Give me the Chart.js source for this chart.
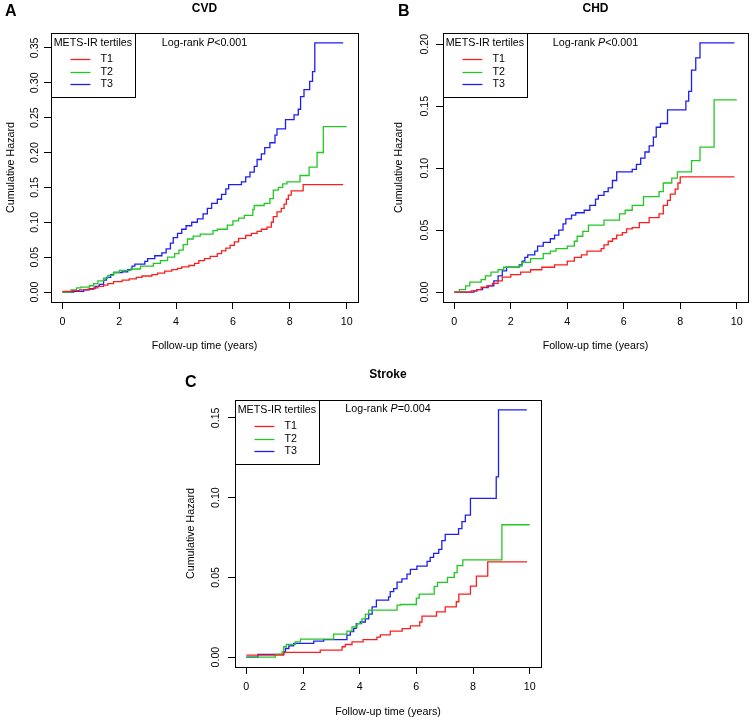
<!DOCTYPE html>
<html>
<head>
<meta charset="utf-8">
<script src="https://cdn.jsdelivr.net/npm/chart.js@4.4.1/dist/chart.umd.min.js"></script>
<style>
  body { margin: 0; background: #fff; }
  #wrap { position: relative; width: 753px; height: 721px; }
  canvas { position: absolute; }
</style>
</head>
<body>
<div id="wrap">
  <canvas id="cvd" width="376" height="360" style="left:0;top:0"></canvas>
  <canvas id="chd" width="367" height="360" style="left:386px;top:0"></canvas>
  <canvas id="stroke" width="380" height="381" style="left:180px;top:340px"></canvas>
</div>
<script>
// Data: [follow-up years, cumulative hazard] at each step
const tertiles = ['T1', 'T2', 'T3'];
const colors = ['#fa1e1e', '#22c822', '#1e1ef5'];
const xTicks = [0, 2, 4, 6, 8, 10];

const cvdT1 = [[0,0.001],[0.35,0.002],[0.6,0.003],[0.9,0.004],[1.1,0.006],[1.25,0.008],[1.45,0.010],[1.6,0.012],[1.8,0.015],[2.1,0.017],[2.35,0.019],[2.6,0.021],[2.8,0.023],[3.15,0.025],[3.35,0.027],[3.6,0.030],[3.85,0.032],[4.05,0.034],[4.2,0.036],[4.45,0.038],[4.65,0.041],[4.8,0.045],[5.0,0.048],[5.2,0.051],[5.45,0.055],[5.6,0.059],[5.75,0.063],[5.9,0.067],[6.05,0.072],[6.2,0.077],[6.45,0.081],[6.65,0.084],[6.85,0.087],[7.0,0.090],[7.2,0.093],[7.35,0.100],[7.42,0.108],[7.55,0.115],[7.7,0.120],[7.8,0.126],[7.88,0.133],[7.95,0.139],[8.05,0.145],[8.47,0.154],[9.88,0.154]];
const cvdT2 = [[0,0],[0.3,0.003],[0.5,0.006],[0.65,0.007],[0.95,0.009],[1.1,0.012],[1.25,0.016],[1.45,0.020],[1.6,0.024],[1.8,0.028],[2.0,0.031],[2.4,0.033],[2.75,0.037],[3.2,0.041],[3.45,0.045],[3.7,0.050],[3.95,0.055],[4.1,0.060],[4.25,0.068],[4.4,0.076],[4.6,0.080],[4.85,0.083],[5.3,0.088],[5.45,0.090],[5.8,0.096],[6.0,0.102],[6.2,0.106],[6.4,0.110],[6.7,0.118],[6.75,0.124],[7.1,0.127],[7.3,0.134],[7.42,0.146],[7.6,0.150],[7.75,0.155],[7.9,0.158],[8.36,0.167],[8.68,0.179],[8.96,0.200],[9.18,0.237],[10.0,0.237]];
const cvdT3 = [[0,0],[0.4,0.001],[0.75,0.003],[0.95,0.005],[1.15,0.008],[1.3,0.011],[1.45,0.017],[1.55,0.021],[1.7,0.025],[1.8,0.028],[2.1,0.029],[2.3,0.032],[2.45,0.037],[2.55,0.040],[2.9,0.044],[3.0,0.048],[3.25,0.052],[3.5,0.056],[3.65,0.062],[3.8,0.070],[3.9,0.078],[4.05,0.084],[4.2,0.090],[4.35,0.095],[4.55,0.100],[4.75,0.105],[4.95,0.112],[5.1,0.120],[5.25,0.127],[5.45,0.133],[5.6,0.140],[5.75,0.148],[5.85,0.154],[6.3,0.158],[6.45,0.165],[6.6,0.172],[6.75,0.180],[6.85,0.190],[7.0,0.198],[7.12,0.207],[7.3,0.214],[7.48,0.225],[7.55,0.234],[7.85,0.247],[8.15,0.254],[8.3,0.262],[8.38,0.280],[8.5,0.290],[8.7,0.302],[8.8,0.316],[8.88,0.357],[9.88,0.357]];

const chdT1 = [[0,0],[0.6,0.001],[0.8,0.002],[0.95,0.004],[1.15,0.005],[1.35,0.007],[1.55,0.009],[1.7,0.012],[2.0,0.014],[2.35,0.016],[2.7,0.018],[3.1,0.020],[3.55,0.022],[4.0,0.025],[4.25,0.028],[4.5,0.030],[4.7,0.033],[5.2,0.035],[5.3,0.038],[5.45,0.041],[5.6,0.043],[5.75,0.046],[5.95,0.048],[6.1,0.051],[6.3,0.052],[6.55,0.056],[6.9,0.060],[7.25,0.063],[7.4,0.070],[7.55,0.074],[7.65,0.079],[7.82,0.083],[7.92,0.088],[8.0,0.093],[9.92,0.093]];
const chdT2 = [[0,0],[0.18,0.002],[0.4,0.005],[0.55,0.008],[0.95,0.010],[1.1,0.013],[1.3,0.016],[1.55,0.018],[1.75,0.020],[2.3,0.021],[2.4,0.024],[2.7,0.027],[3.15,0.031],[3.4,0.033],[3.6,0.035],[4.0,0.037],[4.25,0.041],[4.35,0.045],[4.55,0.049],[4.75,0.054],[5.3,0.058],[5.85,0.063],[6.05,0.066],[6.3,0.070],[6.7,0.077],[7.25,0.081],[7.4,0.088],[7.7,0.092],[7.9,0.097],[8.4,0.106],[8.7,0.117],[9.2,0.155],[10.0,0.155]];
const chdT3 = [[0,0],[0.7,0.001],[0.8,0.002],[1.0,0.0035],[1.2,0.005],[1.4,0.009],[1.55,0.013],[1.7,0.017],[1.85,0.020],[2.3,0.022],[2.4,0.025],[2.5,0.028],[2.6,0.030],[2.85,0.033],[2.95,0.037],[3.15,0.040],[3.4,0.043],[3.55,0.046],[3.7,0.050],[3.85,0.055],[3.95,0.059],[4.15,0.062],[4.3,0.064],[4.6,0.066],[4.8,0.070],[5.0,0.075],[5.1,0.078],[5.3,0.081],[5.45,0.084],[5.6,0.090],[5.75,0.097],[6.3,0.099],[6.45,0.103],[6.6,0.108],[6.75,0.113],[6.9,0.118],[7.05,0.125],[7.15,0.133],[7.3,0.136],[7.55,0.147],[8.2,0.154],[8.3,0.162],[8.4,0.179],[8.55,0.189],[8.7,0.201],[9.92,0.201]];

const strokeT1 = [[0,0.0013],[1.32,0.003],[2.61,0.0044],[3.38,0.0065],[3.49,0.0079],[3.73,0.0096],[4.12,0.011],[4.61,0.0125],[4.73,0.014],[5.08,0.0163],[5.5,0.0178],[5.79,0.0196],[6.12,0.022],[6.2,0.0257],[6.71,0.0284],[7.02,0.0315],[7.41,0.0347],[7.5,0.0395],[7.91,0.0445],[8.12,0.0508],[8.52,0.0597],[9.91,0.0597]];
const strokeT2 = [[0,0],[1.02,0.0017],[1.26,0.0033],[1.32,0.0065],[1.41,0.008],[1.73,0.0096],[1.91,0.0113],[3.08,0.0144],[3.55,0.0163],[3.73,0.019],[3.91,0.021],[4.08,0.024],[4.2,0.027],[4.32,0.0295],[5.32,0.0326],[5.44,0.033],[6.0,0.037],[6.1,0.0395],[6.63,0.0443],[6.75,0.0468],[7.1,0.050],[7.34,0.053],[7.44,0.0574],[7.64,0.061],[9.02,0.083],[10.0,0.083]];
const strokeT3 = [[0,0],[0.41,0.0017],[1.32,0.0035],[1.38,0.0054],[1.5,0.007],[1.67,0.0086],[2.38,0.010],[2.73,0.011],[3.55,0.0138],[3.67,0.016],[3.79,0.018],[3.88,0.021],[4.02,0.022],[4.2,0.024],[4.32,0.027],[4.44,0.0315],[4.59,0.0357],[5.02,0.0378],[5.08,0.041],[5.2,0.043],[5.32,0.047],[5.49,0.049],[5.67,0.052],[5.79,0.055],[6.02,0.057],[6.38,0.060],[6.49,0.0625],[6.61,0.065],[6.79,0.0675],[6.9,0.073],[7.02,0.077],[7.49,0.0806],[7.61,0.085],[7.73,0.089],[7.91,0.0995],[8.82,0.113],[8.9,0.155],[9.9,0.155]];

const cvdYTicks = [0, 0.05, 0.10, 0.15, 0.20, 0.25, 0.30, 0.35];
const chdYTicks = [0, 0.05, 0.10, 0.15, 0.20];
const strokeYTicks = [0, 0.05, 0.10, 0.15];

const FONT = '"Liberation Sans", Arial, Helvetica, sans-serif';
const FS = 10.7;
Chart.defaults.font.family = FONT;
Chart.defaults.color = '#000';

// Box around plot, legend box, log-rank note and panel letter
const panelDecor = {
  id: 'panelDecor',
  afterDraw(chart, args, o) {
    const { ctx, chartArea: a } = chart;
    ctx.save();
    ctx.strokeStyle = '#000';
    ctx.lineWidth = 1;
    const L = Math.round(a.left) + 0.5, T = Math.round(a.top) + 0.5;
    ctx.strokeRect(L, T, Math.round(a.right - a.left), Math.round(a.bottom - a.top));
    ctx.strokeRect(L, T, 84, 64);

    ctx.fillStyle = '#000';
    ctx.font = `${FS}px ${FONT}`;
    ctx.textBaseline = 'middle';
    ctx.textAlign = 'left';
    ctx.fillText('METS-IR tertiles', a.left + 2.7, a.top + 10.5);
    chart.data.datasets.forEach((ds, i) => {
      const y = Math.round(a.top + 26 + i * 12.6) + 0.5;
      ctx.strokeStyle = ds.borderColor;
      ctx.lineWidth = 1.3;
      ctx.beginPath();
      ctx.moveTo(a.left + 19.4, y);
      ctx.lineTo(a.left + 39.4, y);
      ctx.stroke();
      ctx.fillText(ds.label, a.left + 49.4, y);
    });

    // "Log-rank P<0.001" with italic P, centred over the plot
    const part1 = 'Log-rank ', part3 = o.p;
    const italic = `italic ${FS}px ${FONT}`, normal = `${FS}px ${FONT}`;
    ctx.font = normal;
    const w1 = ctx.measureText(part1).width, w3 = ctx.measureText(part3).width;
    ctx.font = italic;
    const w2 = ctx.measureText('P').width;
    let x = (a.left + a.right) / 2 - (w1 + w2 + w3) / 2;
    const ty = a.top + o.noteY;
    ctx.font = normal; ctx.fillText(part1, x, ty); x += w1;
    ctx.font = italic; ctx.fillText('P', x, ty); x += w2;
    ctx.font = normal; ctx.fillText(part3, x, ty);

    ctx.font = `bold 16px ${FONT}`;
    ctx.fillText(o.letter, o.letterX, o.letterY);
    ctx.restore();
  }
};

function makePanel(id, p) {
  const datasets = p.series.map((s, i) => ({
    label: tertiles[i],
    data: s.map(([x, y]) => ({ x, y })),
    borderColor: colors[i],
    borderWidth: 1.3,
    showLine: true,
    stepped: 'before',
    pointRadius: 0,
    fill: false
  }));
  const yMax = p.yTop * 1.04, yMin = -p.yTop * 0.04;
  return new Chart(document.getElementById(id), {
    type: 'scatter',
    data: { datasets },
    plugins: [panelDecor],
    options: {
      responsive: false,
      animation: false,
      events: [],
      layout: { padding: { left: 0, right: p.padRight, top: 0, bottom: 0 } },
      plugins: {
        legend: { display: false },
        tooltip: { enabled: false },
        title: {
          display: true, text: p.title, fullSize: false, color: '#000',
          font: { size: 12, weight: 'bold', lineHeight: 1 },
          padding: { top: p.titleTop, bottom: p.titleBottom }
        },
        panelDecor: { letter: p.letter, letterX: p.letterX, letterY: p.letterY, p: p.pText, noteY: p.noteY }
      },
      scales: {
        x: {
          type: 'linear', min: -0.4, max: 10.4,
          afterFit: s => { s.height = p.xHeight; },
          afterBuildTicks: s => { s.ticks = xTicks.map(v => ({ value: v })); },
          grid: { drawOnChartArea: false, drawTicks: true, tickLength: 7, color: '#000' },
          border: { display: true, color: '#000', width: 1 },
          ticks: { color: '#000', font: { size: FS }, padding: 6.3, maxRotation: 0, callback: v => String(v) },
          title: { display: true, text: 'Follow-up time (years)', color: '#000', font: { size: FS }, padding: { top: 0, bottom: p.xTitleBottom } }
        },
        y: {
          type: 'linear', min: yMin, max: yMax,
          afterFit: s => { s.width = p.yWidth; },
          afterBuildTicks: s => { s.ticks = p.yTicks.map(v => ({ value: v })); },
          grid: { drawOnChartArea: false, drawTicks: true, tickLength: 7, color: '#000' },
          border: { display: true, color: '#000', width: 1 },
          ticks: { color: '#000', font: { size: FS }, padding: p.yPad, minRotation: 90, maxRotation: 90, crossAlign: 'center', callback: v => v.toFixed(2) },
          title: { display: true, text: 'Cumulative Hazard', color: '#000', font: { size: FS }, padding: { top: p.yTitleTop, bottom: 0 } }
        }
      }
    }
  });
}

makePanel('cvd', {
  title: 'CVD', letter: 'A', letterX: 5, letterY: 12, pText: '<0.001', noteY: 10.2,
  series: [cvdT1, cvdT2, cvdT3], yTicks: cvdYTicks, yTop: 0.357,
  padRight: 18, yWidth: 51, xHeight: 58, titleTop: 2.5, titleBottom: 18.5,
  yPad: -1.1, yTitleTop: 4.8, xTitleBottom: 7.6
});
makePanel('chd', {
  title: 'CHD', letter: 'B', letterX: 12, letterY: 12, pText: '<0.001', noteY: 10.2,
  series: [chdT1, chdT2, chdT3], yTicks: chdYTicks, yTop: 0.201,
  padRight: 5, yWidth: 57, xHeight: 58, titleTop: 2.5, titleBottom: 18.5,
  yPad: 0.6, yTitleTop: 7.1, xTitleBottom: 7.6
});
makePanel('stroke', {
  title: 'Stroke', letter: 'C', letterX: 5, letterY: 43, pText: '=0.004', noteY: 9,
  series: [strokeT1, strokeT2, strokeT3], yTicks: strokeYTicks, yTop: 0.155,
  padRight: 19, yWidth: 55, xHeight: 54, titleTop: 28.5, titleBottom: 19.5,
  yPad: 1.8, yTitleTop: 4.4, xTitleBottom: 2.9
});
</script>
</body>
</html>
